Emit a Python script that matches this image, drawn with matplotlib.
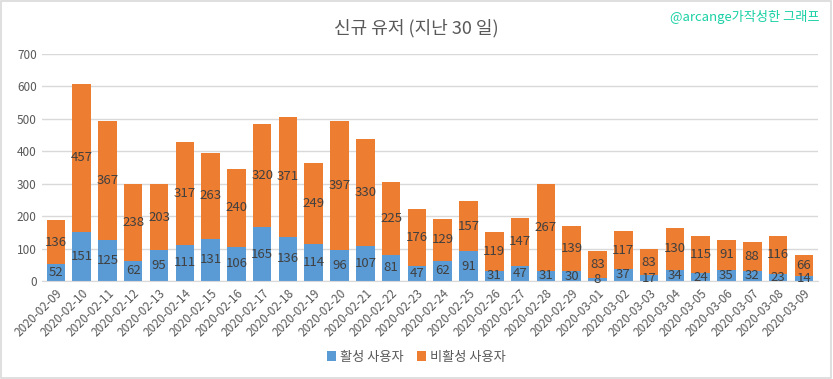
import matplotlib
matplotlib.use("Agg")
from matplotlib import pyplot as plt
from matplotlib.patches import Rectangle
import numpy as np

plt.rcParams['font.family'] = ['Noto Sans CJK KR', 'DejaVu Sans']

dates = ['2020-02-09', '2020-02-10', '2020-02-11', '2020-02-12', '2020-02-13',
         '2020-02-14', '2020-02-15', '2020-02-16', '2020-02-17', '2020-02-18',
         '2020-02-19', '2020-02-20', '2020-02-21', '2020-02-22', '2020-02-23',
         '2020-02-24', '2020-02-25', '2020-02-26', '2020-02-27', '2020-02-28',
         '2020-02-29', '2020-03-01', '2020-03-02', '2020-03-03', '2020-03-04',
         '2020-03-05', '2020-03-06', '2020-03-07', '2020-03-08', '2020-03-09']
active = [52, 151, 125, 62, 95, 111, 131, 106, 165, 136, 114, 96, 107, 81, 47,
          62, 91, 31, 47, 31, 30, 8, 37, 17, 34, 24, 35, 32, 23, 14]
inactive = [136, 457, 367, 238, 203, 317, 263, 240, 320, 371, 249, 397, 330, 225, 176,
            129, 157, 119, 147, 267, 139, 83, 117, 83, 130, 115, 91, 88, 116, 66]

blue = '#5B9BD5'
orange = '#ED7D31'
text_grey = '#595959'
label_col = '#404040'

fig = plt.figure(figsize=(8.33, 3.79), dpi=100)
ax = fig.add_axes([0.05, 0.2586, 0.932, 0.599])

x = np.arange(len(dates))
b1 = ax.bar(x, active, width=0.72, color=blue, label='활성 사용자', zorder=2)
b2 = ax.bar(x, inactive, width=0.72, bottom=active, color=orange, label='비활성 사용자', zorder=2)
ax.bar_label(b1, label_type='center', color=label_col, fontsize=9.5)
ax.bar_label(b2, label_type='center', color=label_col, fontsize=9.5)

ax.set_xlim(-0.55, len(dates) - 0.45)
ax.set_ylim(0, 700)
ax.set_yticks(range(0, 701, 100))
ax.set_xticks(x)
ax.set_xticklabels(dates, rotation=45, ha='right', rotation_mode='anchor')
ax.tick_params(axis='both', length=0, colors=text_grey, labelsize=8.5)
ax.tick_params(axis='x', pad=4)
ax.grid(axis='y', color='#d9d9d9', linewidth=1, zorder=0)
ax.set_axisbelow(True)
for s in ['top', 'right', 'left']:
    ax.spines[s].set_visible(False)
ax.spines['bottom'].set_color('#d9d9d9')

fig.text(0.5, 0.925, '신규 유저 (지난 30 일)', ha='center', va='center',
         fontsize=13, color=text_grey)
fig.text(0.984, 0.955, '@arcange가작성한 그래프', ha='right', va='center',
         fontsize=9.5, color='#1ad1a5')

fig.legend(loc='center', bbox_to_anchor=(0.5, 0.058), ncol=2, frameon=False,
           fontsize=9.5, handlelength=0.7, handleheight=0.7, handletextpad=0.3,
           columnspacing=1.0, labelcolor=text_grey)

fig.patches.append(Rectangle((0.001, 0.002), 0.997, 0.995, transform=fig.transFigure,
                             fill=False, edgecolor='#d9d9d9', linewidth=1.2))

fig.savefig('out.png', dpi=100)
